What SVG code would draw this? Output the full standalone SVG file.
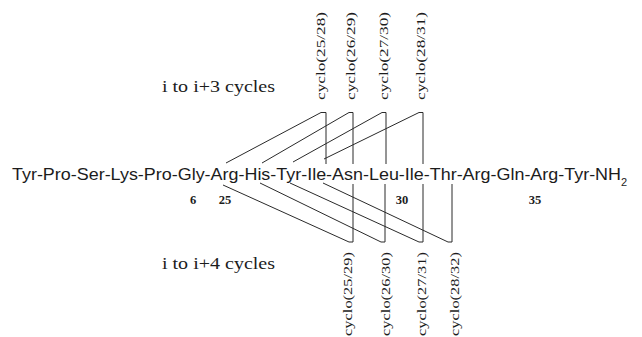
<svg xmlns="http://www.w3.org/2000/svg" width="642" height="337" viewBox="0 0 642 337">
<style>
.seq{font-family:"Liberation Sans",Arial,sans-serif;font-size:17px;fill:#1c1c1c}
.num{font-family:"Liberation Serif","Times New Roman",serif;font-size:12.5px;font-weight:bold;fill:#1c1c1c;text-anchor:middle}
.cap{font-family:"Liberation Serif","Times New Roman",serif;font-size:17px;fill:#1c1c1c}
.lab{font-family:"Liberation Serif","Times New Roman",serif;font-size:12px;fill:#1c1c1c}
.ln{fill:none;stroke:#2a2a2a;stroke-width:1}
</style>
<rect width="642" height="337" fill="#ffffff"/>
<g id="sequence">
<text class="seq" x="12" y="180" textLength="609" lengthAdjust="spacingAndGlyphs">Tyr-Pro-Ser-Lys-Pro-Gly-Arg-His-Tyr-Ile-Asn-Leu-Ile-Thr-Arg-Gln-Arg-Tyr-NH</text>
<text class="seq" x="621" y="186" style="font-size:11px">2</text>
</g>
<g id="numbers">
<text class="num" x="193" y="204">6</text>
<text class="num" x="225" y="204">25</text>
<text class="num" x="402" y="204">30</text>
<text class="num" x="535" y="204">35</text>
</g>
<g id="caption-i3"><text class="cap" x="162" y="92" textLength="113" lengthAdjust="spacingAndGlyphs">i to i+3 cycles</text></g>
<g id="caption-i4"><text class="cap" x="162" y="269" textLength="113" lengthAdjust="spacingAndGlyphs">i to i+4 cycles</text></g>
<g id="upper-labels">
<text class="lab" transform="translate(324.5,100) rotate(-90)" textLength="88" lengthAdjust="spacingAndGlyphs">cyclo(25/28)</text>
<text class="lab" transform="translate(354.5,100) rotate(-90)" textLength="88" lengthAdjust="spacingAndGlyphs">cyclo(26/29)</text>
<text class="lab" transform="translate(387.5,100) rotate(-90)" textLength="88" lengthAdjust="spacingAndGlyphs">cyclo(27/30)</text>
<text class="lab" transform="translate(424.5,100) rotate(-90)" textLength="88" lengthAdjust="spacingAndGlyphs">cyclo(28/31)</text>
</g>
<g id="lower-labels">
<text class="lab" transform="translate(351.5,336) rotate(-90)" textLength="84" lengthAdjust="spacingAndGlyphs">cyclo(25/29)</text>
<text class="lab" transform="translate(389.5,336) rotate(-90)" textLength="84" lengthAdjust="spacingAndGlyphs">cyclo(26/30)</text>
<text class="lab" transform="translate(425.5,336) rotate(-90)" textLength="84" lengthAdjust="spacingAndGlyphs">cyclo(27/31)</text>
<text class="lab" transform="translate(458.5,336) rotate(-90)" textLength="84" lengthAdjust="spacingAndGlyphs">cyclo(28/32)</text>
</g>
<g id="connectors">
<polyline class="ln" points="226,163 321,112.5 326,112.5 326,164"/>
<polyline class="ln" points="262,163 349,112.5 353,112.5 353,164"/>
<polyline class="ln" points="293,162 382,112.5 386,112.5 386,164"/>
<polyline class="ln" points="324,159 419,112.5 423,112.5 423,164"/>
<polyline class="ln" points="223,185 349,242 353,242 353,184"/>
<polyline class="ln" points="260,183 381,242 385,242 385,184"/>
<polyline class="ln" points="290,183 419,242 423,242 423,184"/>
<polyline class="ln" points="323,183 448,242 452,242 452,184"/>
</g>
</svg>
